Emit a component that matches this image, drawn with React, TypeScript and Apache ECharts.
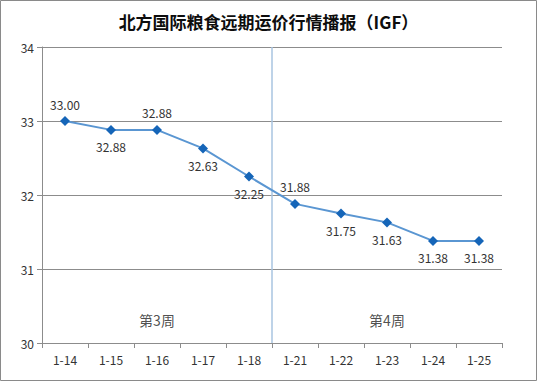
import React, { useEffect, useRef } from "react";
import * as echarts from "echarts";

const title = "北方国际粮食远期运价行情播报（IGF）";
const categories = ["1-14", "1-15", "1-16", "1-17", "1-18", "1-21", "1-22", "1-23", "1-24", "1-25"];
const prices = [33.0, 32.88, 32.88, 32.63, 32.25, 31.88, 31.75, 31.63, 31.38, 31.38];
const labelAbove = [true, false, true, false, false, true, false, false, false, false];
const weekLabels = ["第3周", "第4周"];
const weekCenters = [2.5, 7.5];
const separatorX = 5;
const yMin = 30;
const yMax = 34;

export default function App() {
  const ref = useRef<HTMLDivElement>(null);
  useEffect(() => {
    if (!ref.current) return;
    const chart = echarts.init(ref.current, undefined, { renderer: "svg" });
    const font = "'Microsoft YaHei', 'Noto Sans CJK SC', sans-serif";
    chart.setOption({
      animation: false,
      backgroundColor: "#ffffff",
      title: {
        text: title,
        left: "center",
        top: 8,
        textStyle: { fontFamily: font, fontSize: 17, fontWeight: "bold", color: "#0d0d0d" },
      },
      graphic: [
        {
          type: "rect",
          shape: { x: 0.5, y: 0.5, width: 536, height: 380 },
          style: { fill: "none", stroke: "#8a8a8a", lineWidth: 1 },
          silent: true,
        },
      ],
      grid: { left: 42, right: 35, top: 47, bottom: 38, containLabel: false },
      xAxis: [
        {
          type: "category",
          data: categories,
          boundaryGap: true,
          axisLine: { lineStyle: { color: "#8c8c8c" } },
          axisTick: { show: true, length: 5, lineStyle: { color: "#8c8c8c" } },
          axisLabel: { color: "#333", fontSize: 12, fontFamily: font, margin: 10 },
          splitLine: { show: false },
        },
        {
          type: "value",
          min: 0,
          max: 10,
          show: false,
        },
      ],
      yAxis: {
        type: "value",
        min: yMin,
        max: yMax,
        interval: 1,
        axisLine: { show: true, lineStyle: { color: "#8c8c8c" } },
        axisTick: { show: true, length: 5, lineStyle: { color: "#8c8c8c" } },
        axisLabel: { color: "#333", fontSize: 12, fontFamily: font, margin: 8 },
        splitLine: { show: true, lineStyle: { color: "#8c8c8c", width: 1 } },
      },
      series: [
        {
          type: "line",
          xAxisIndex: 1,
          data: [
            [separatorX, yMin],
            [separatorX, yMax],
          ],
          symbol: "none",
          lineStyle: { color: "#a9c4e0", width: 1.5 },
          silent: true,
          z: 1,
        },
        {
          type: "scatter",
          xAxisIndex: 1,
          data: weekCenters.map((x, i) => ({ value: [x, 30.31], name: weekLabels[i] })),
          symbolSize: 0,
          label: {
            show: true,
            position: "inside",
            formatter: (p: any) => p.name,
            color: "#222",
            fontSize: 14,
            fontFamily: font,
          },
          silent: true,
        },
        {
          type: "line",
          data: prices.map((v, i) => ({
            value: v,
            label: { position: labelAbove[i] ? "top" : "bottom" },
          })),
          symbol: "diamond",
          symbolSize: 10,
          itemStyle: { color: "#1565b8" },
          lineStyle: { color: "#5a96d2", width: 2 },
          label: {
            show: true,
            formatter: (p: any) => Number(p.value).toFixed(2),
            color: "#333",
            fontSize: 12,
            fontFamily: font,
            distance: 6,
          },
          z: 3,
        },
      ],
    });
    return () => chart.dispose();
  }, []);
  return <div ref={ref} style={{ width: 537, height: 381, position: "absolute", left: 0, top: 0 }} />;
}
